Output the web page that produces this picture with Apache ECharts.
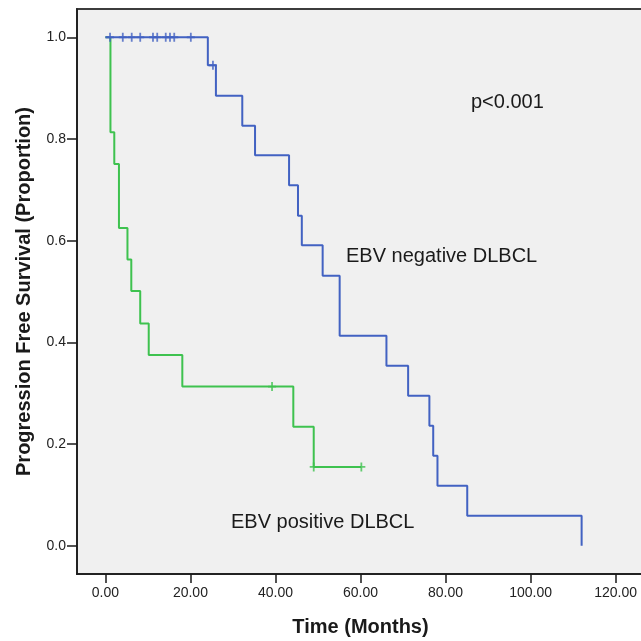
<!DOCTYPE html>
<html>
<head>
<meta charset="utf-8">
<script src="https://cdn.jsdelivr.net/npm/echarts@6/dist/echarts.min.js"></script>
<style>
  html, body { margin: 0; padding: 0; background: #ffffff; }
  #chart { width: 641px; height: 641px; }
</style>
</head>
<body>
<div id="chart"></div>
<script>
// ---- Data ----
const xTicks = [0, 20, 40, 60, 80, 100, 120];
const yTicks = [0, 0.2, 0.4, 0.6, 0.8, 1.0];

// EBV negative DLBCL (blue) : event times and survival after each event
const negTimes = [0, 24.1, 26.0, 32.2, 35.2, 43.2, 45.3, 46.2, 51.1, 55.1, 66.1, 71.2, 76.2, 77.1, 78.1, 85.1, 112.0];
const negSurv  = [1.0, 0.945, 0.885, 0.826, 0.768, 0.709, 0.649, 0.591, 0.531, 0.413, 0.354, 0.295, 0.236, 0.177, 0.118, 0.059, 0.0];
const negCensor = [1.1, 4.1, 6.2, 8.2, 11.2, 12.2, 14.2, 15.2, 16.2, 20.1, 25.3];

// EBV positive DLBCL (green)
const posTimes = [0, 1.2, 2.1, 3.2, 5.2, 6.1, 8.2, 10.2, 18.1, 44.2, 49.0, 60.2];
const posSurv  = [1.0, 0.813, 0.751, 0.625, 0.563, 0.501, 0.437, 0.375, 0.313, 0.234, 0.155, 0.155];
const posCensor = [39.2, 49.0, 60.2];

// ---- Helpers ----
function pairs(ts, ss) { return ts.map((t, i) => [t, ss[i]]); }
function survAt(ts, ss, t) {
  let v = ss[0];
  for (let i = 0; i < ts.length; i++) { if (ts[i] <= t) v = ss[i]; }
  return v;
}
const BLUE = '#4262c2';
const GREEN = '#3ec24f';
const FONT = 'Liberation Sans, Arial, sans-serif';
const PLUS = 'path://M3.1,0H4.9V3.6H8V5.4H4.9V9H3.1V5.4H0V3.6H3.1Z';

const chart = echarts.init(document.getElementById('chart'), null, { renderer: 'canvas' });
chart.setOption({
  animation: false,
  backgroundColor: '#ffffff',
  grid: {
    left: 77, top: 9, right: -3, bottom: 67,
    outerBoundsMode: 'none', containLabel: false,
    show: true, backgroundColor: '#f0f0f0',
    borderColor: '#3c3c3c', borderWidth: 2
  },
  xAxis: {
    type: 'value', min: -6.667, max: 126.667,
    name: 'Time (Months)', nameLocation: 'middle', nameGap: 43,
    nameTextStyle: { fontFamily: FONT, fontSize: 20, fontWeight: 'bold', color: '#1a1a1a' },
    axisLine: { onZero: false, lineStyle: { color: '#1a1a1a', width: 1.5 } },
    axisTick: { show: true, length: 9, customValues: xTicks, lineStyle: { color: '#1a1a1a', width: 1.5 } },
    axisLabel: { customValues: xTicks, margin: 12, fontFamily: FONT, fontSize: 14, color: '#222',
                 formatter: v => v.toFixed(2) },
    splitLine: { show: false }
  },
  yAxis: {
    type: 'value', min: -0.0556, max: 1.0556,
    name: 'Progression Free Survival (Proportion)', nameLocation: 'middle', nameGap: 43,
    nameTextStyle: { fontFamily: FONT, fontSize: 20, fontWeight: 'bold', color: '#1a1a1a' },
    axisLine: { show: true, onZero: false, lineStyle: { color: '#1a1a1a', width: 1.5 } },
    axisTick: { show: true, length: 10, customValues: yTicks, lineStyle: { color: '#1a1a1a', width: 1.5 } },
    axisLabel: { customValues: yTicks, margin: 11, fontFamily: FONT, fontSize: 14, color: '#222',
                 formatter: v => v.toFixed(1) },
    splitLine: { show: false }
  },
  series: [
    {
      name: 'EBV positive DLBCL', type: 'line', step: 'end', showSymbol: false,
      data: pairs(posTimes, posSurv),
      lineStyle: { color: GREEN, width: 2 }, itemStyle: { color: GREEN }, z: 2
    },
    {
      name: 'EBV positive censored', type: 'scatter', symbol: PLUS, symbolSize: [8, 9],
      data: posCensor.map(t => [t, survAt(posTimes, posSurv, t)]),
      itemStyle: { color: GREEN }, z: 3
    },
    {
      name: 'EBV negative DLBCL', type: 'line', step: 'end', showSymbol: false,
      data: pairs(negTimes, negSurv),
      lineStyle: { color: BLUE, width: 2 }, itemStyle: { color: BLUE }, z: 4
    },
    {
      name: 'EBV negative censored', type: 'scatter', symbol: PLUS, symbolSize: [8, 9],
      data: negCensor.map(t => [t, survAt(negTimes, negSurv, t)]),
      itemStyle: { color: BLUE }, z: 5
    }
  ],
  graphic: [
    { type: 'text', left: 471, top: 92, z: 10,
      style: { text: 'p<0.001', font: '20px ' + FONT, fill: '#1a1a1a' } },
    { type: 'text', left: 346, top: 246, z: 10,
      style: { text: 'EBV negative DLBCL', font: '20px ' + FONT, fill: '#1a1a1a' } },
    { type: 'text', left: 231, top: 512, z: 10,
      style: { text: 'EBV positive DLBCL', font: '20px ' + FONT, fill: '#1a1a1a' } }
  ]
});
</script>
</body>
</html>
